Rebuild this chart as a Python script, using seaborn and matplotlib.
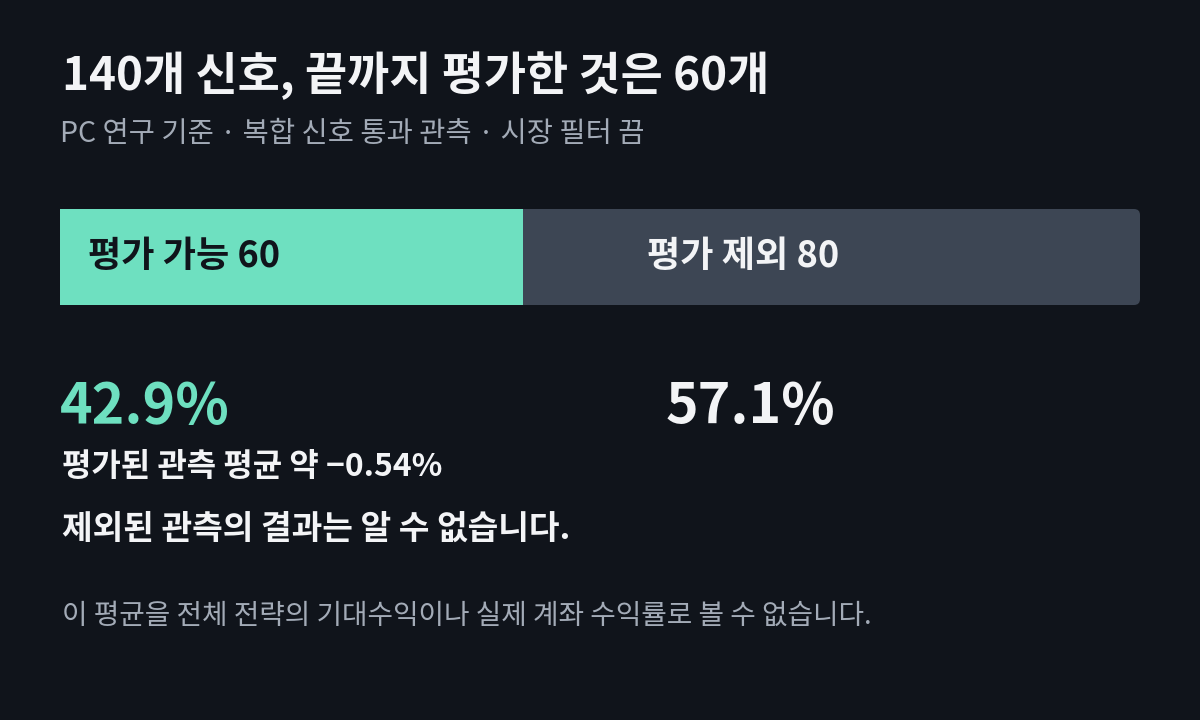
import matplotlib
matplotlib.use("Agg")
import matplotlib.pyplot as plt
from matplotlib.patches import FancyBboxPatch
import seaborn as sns

# data
segments = ["평가 가능", "평가 제외"]
counts = [60, 80]
total = sum(counts)
shares = [c / total * 100 for c in counts]
avg_return = -0.54

title = f"{total}개 신호, 끝까지 평가한 것은 {counts[0]}개"
subtitle = "PC 연구 기준 · 복합 신호 통과 관측 · 시장 필터 끔"
line_avg = f"평가된 관측 평균 약 \u2212{abs(avg_return):.2f}%"
line_excl = "제외된 관측의 결과는 알 수 없습니다."
footer = "이 평균을 전체 전략의 기대수익이나 실제 계좌 수익률로 볼 수 없습니다."

BG = "#10141b"
TEAL = "#6ee0c0"
GREY = "#3d4654"
WHITE = "#f3f4f6"
MUTED = "#a3abb7"

sns.set_theme(style="white")
plt.rcParams["font.family"] = ["Noto Sans CJK KR", "DejaVu Sans"]

W, H = 1200, 720
fig = plt.figure(figsize=(12, 7.2), dpi=100, facecolor=BG)


def px(x, y):
    return x / W, 1 - y / H


# bar axes
ax = fig.add_axes([60 / W, 1 - 305 / H, 1080 / W, 96 / H])
ax.set_facecolor(BG)
sns.barplot(x=[total], y=[""], orient="h", color=GREY, width=1, ax=ax,
            saturation=1, linewidth=0, edgecolor="none")
sns.barplot(x=[counts[0]], y=[""], orient="h", color=TEAL, width=1, ax=ax,
            saturation=1, linewidth=0, edgecolor="none")
ax.set_xlim(0, total)
ax.set_ylim(0.5, -0.5)
ax.axis("off")

# rounded right end for the grey bar
grey_bar = ax.patches[0]
grey_bar.set_visible(False)
x_per_px = total / 1080
y_per_px = 1 / 96
rounded = FancyBboxPatch((0, -0.5), total, 1,
                         boxstyle=f"round,pad=0,rounding_size={6 * x_per_px}",
                         mutation_aspect=y_per_px / x_per_px,
                         facecolor=GREY, edgecolor="none", linewidth=0, zorder=0.5)
ax.add_patch(rounded)

# texts
fig.text(*px(62, 90), title, fontsize=33, fontweight="bold", color=WHITE, va="baseline")
fig.text(*px(60, 142), subtitle, fontsize=20.5, color=MUTED, va="baseline")

fig.text(*px(88, 267), f"{segments[0]} {counts[0]}", fontsize=26, fontweight="bold",
         color=BG, va="baseline")
fig.text(*px(647, 267), f"{segments[1]} {counts[1]}", fontsize=26, fontweight="bold",
         color=WHITE, va="baseline")

fig.text(*px(60, 423), f"{shares[0]:.1f}%", fontsize=40, fontweight="bold",
         color=TEAL, va="baseline")
fig.text(*px(666, 423), f"{shares[1]:.1f}%", fontsize=40, fontweight="bold",
         color=WHITE, va="baseline")

fig.text(*px(62, 476), line_avg, fontsize=23, fontweight="bold", color=WHITE, va="baseline")
fig.text(*px(62, 539), line_excl, fontsize=24, fontweight="bold", color=WHITE, va="baseline")
fig.text(*px(62, 624), footer, fontsize=20, color=MUTED, va="baseline")

fig.savefig("out.png", dpi=100, facecolor=BG)
